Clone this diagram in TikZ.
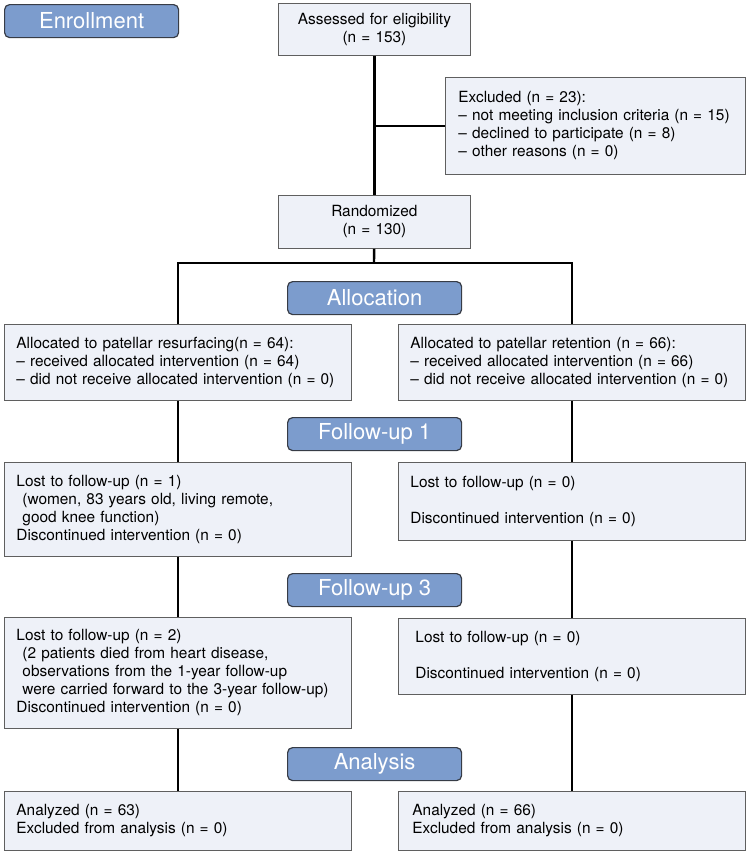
\documentclass[tikz,border=0pt]{standalone}
\usepackage{fontspec}
\setmainfont{TeX Gyre Heros}
\usetikzlibrary{shapes,arrows}
\definecolor{hdrblue}{RGB}{124,156,205}
\definecolor{hdrline}{RGB}{55,60,70}
\definecolor{boxfill}{RGB}{238,241,248}
\definecolor{boxline}{RGB}{95,95,95}
\tikzstyle{stage} = [rectangle, rounded corners=5pt, draw=hdrline, line width=1.2pt,
    fill=hdrblue, text=white, font=\fontsize{22}{26}\selectfont,
    minimum width=174pt, minimum height=33pt, inner sep=0pt, anchor=north west]
\tikzstyle{block} = [rectangle, draw=boxline, line width=0.9pt, fill=boxfill,
    font=\fontsize{15.4}{18}\selectfont, align=left, inner xsep=12pt, inner ysep=0pt,
    anchor=north west]
\tikzstyle{line} = [draw, line width=2.4pt]

\begin{document}
\begin{tikzpicture}[x=1pt, y=-1pt]
    \useasboundingbox (0,0) rectangle (749,854);
    % Stage labels
    \node [stage] (enroll) at (4,4) {Enrollment};
    \node [stage] (alloc) at (287,281) {Allocation};
    \node [stage] (fup1) at (287,417) {Follow-up 1};
    \node [stage] (fup3) at (287,573) {Follow-up 3};
    \node [stage] (analysis) at (287,747) {Analysis};
    % Place nodes
    \node [block, align=center, text width=168pt, minimum height=52pt] (assess) at (278,3)
        {Assessed for eligibility\\(n = 153)};
    \node [block, inner xsep=13pt, text width=274pt, minimum height=97pt] (excl) at (445,77)
        {Excluded (n = 23):\\– not meeting inclusion criteria (n = 15)\\– declined to participate (n = 8)\\– other reasons (n = 0)};
    \node [block, align=center, text width=168pt, minimum height=53pt] (rand) at (278,195)
        {Randomized\\(n = 130)};
    \node [block, text width=323pt, minimum height=76pt] (resurf) at (4,324)
        {Allocated to patellar resurfacing(n = 64):\\– received allocated intervention (n = 64)\\– did not receive allocated intervention (n = 0)};
    \node [block, text width=323pt, minimum height=76pt] (retain) at (398,324)
        {Allocated to patellar retention (n = 66):\\– received allocated intervention (n = 66)\\– did not receive allocated intervention (n = 0)};
    \node [block, text width=323pt, minimum height=94pt] (lost1l) at (4,462)
        {Lost to follow-up (n = 1)\\\hspace*{6pt}(women, 83 years old, living remote,\\\hspace*{6pt}good knee function)\\Discontinued intervention (n = 0)};
    \node [block, text width=323pt, minimum height=78pt] (lost1r) at (398,462)
        {Lost to follow-up (n = 0)\\[18pt]Discontinued intervention (n = 0)};
    \node [block, text width=323pt, minimum height=111pt] (lost3l) at (4,617)
        {Lost to follow-up (n = 2)\\\hspace*{6pt}(2 patients died from heart disease,\\\hspace*{6pt}observations from the 1-year follow-up\\\hspace*{6pt}were carried forward to the 3-year follow-up)\\Discontinued intervention (n = 0)};
    \node [block, inner xsep=17pt, text width=313pt, minimum height=76pt] (lost3r) at (398,618)
        {Lost to follow-up (n = 0)\\[18pt]Discontinued intervention (n = 0)};
    \node [block, text width=323pt, minimum height=59pt] (anl) at (4,791)
        {Analyzed (n = 63)\\Excluded from analysis (n = 0)};
    \node [block, inner xsep=14pt, text width=319pt, minimum height=59pt] (anr) at (398,791)
        {Analyzed (n = 66)\\Excluded from analysis (n = 0)};
    \coordinate (split) at (374,263);

    \path [line] (assess) -- (rand);
    \path [line] (excl.west) -- (excl.west -| assess.south);
    \path [line] (rand) -- (split);
    \path [line] (resurf.north) |- (split) -| (retain.north);
    \path [line] (resurf) -- (lost1l);
    \path [line] (lost1l) -- (lost3l);
    \path [line] (lost3l) -- (anl);
    \path [line] (retain) -- (lost1r);
    \path [line] (lost1r) -- (lost3r);
    \path [line] (lost3r) -- (anr);
\end{tikzpicture}
\end{document}
